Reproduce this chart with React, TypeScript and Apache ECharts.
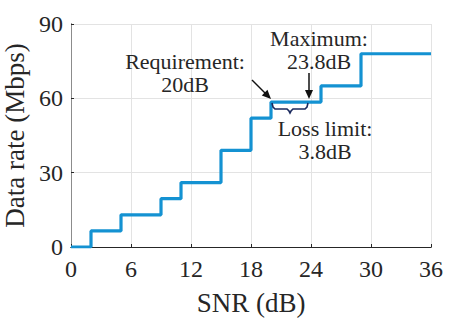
import React, { useEffect, useRef } from "react";
import * as echarts from "echarts";

const snrThresholds = [0, 2, 5, 9, 11, 15, 18, 20, 25, 29, 36];
const dataRates = [0, 6.5, 13, 19.5, 26, 39, 52, 58.5, 65, 78, 78];
const xTicks = [0, 6, 12, 18, 24, 30, 36];
const yTicks = [0, 30, 60, 90];
const requirementSnr = 20;
const maximumSnr = 23.8;
const plateauRate = 58.5;
const requirementLines = ["Requirement:", "20dB"];
const maximumLines = ["Maximum:", "23.8dB"];
const lossLines = ["Loss limit:", "3.8dB"];

const FONT = "Liberation Serif";

export default function App() {
  const ref = useRef<HTMLDivElement>(null);
  useEffect(() => {
    if (!ref.current) return;
    const chart = echarts.init(ref.current, undefined, { renderer: "svg" });
    const axisLine = { show: true, lineStyle: { color: "#262626", width: 1 } };
    chart.setOption({
      animation: false,
      backgroundColor: "#ffffff",
      grid: { left: 71, right: 18, top: 24, bottom: 71, outerBoundsMode: "none", containLabel: false },
      xAxis: [
        {
          type: "value",
          min: xTicks[0],
          max: xTicks[xTicks.length - 1],
          interval: 6,
          name: "SNR (dB)",
          nameLocation: "middle",
          nameGap: 42,
          nameTextStyle: { fontFamily: FONT, fontSize: 27, color: "#262626" },
          axisLine,
          axisTick: { show: true, inside: true, length: 3, lineStyle: { color: "#262626" } },
          axisLabel: { fontFamily: FONT, fontSize: 24, color: "#262626", margin: 10 },
          splitLine: { show: true, lineStyle: { color: "#e3e3e3", width: 1 } },
        },
        {
          type: "value",
          position: "top",
          min: xTicks[0],
          max: xTicks[xTicks.length - 1],
          interval: 6,
          axisLine,
          axisTick: { show: false },
          axisLabel: { show: false },
          splitLine: { show: false },
        },
      ],
      yAxis: [
        {
          type: "value",
          min: yTicks[0],
          max: yTicks[yTicks.length - 1],
          interval: 30,
          name: "Data rate (Mbps)",
          nameLocation: "middle",
          nameGap: 40,
          nameTextStyle: { fontFamily: FONT, fontSize: 27, color: "#262626" },
          axisLine,
          axisTick: { show: true, inside: true, length: 3, lineStyle: { color: "#262626" } },
          axisLabel: { fontFamily: FONT, fontSize: 24, color: "#262626", margin: 8 },
          splitLine: { show: true, lineStyle: { color: "#e3e3e3", width: 1 } },
        },
        {
          type: "value",
          position: "right",
          min: yTicks[0],
          max: yTicks[yTicks.length - 1],
          interval: 30,
          axisLine: { show: true, lineStyle: { color: "#8c8c8c", width: 1 } },
          axisTick: { show: false },
          axisLabel: { show: false },
          splitLine: { show: false },
        },
      ],
      series: [
        {
          type: "line",
          step: "end",
          data: snrThresholds.map((x, i) => [x, dataRates[i]]),
          showSymbol: false,
          symbol: "none",
          lineStyle: { color: "#1492d2", width: 3.2 },
          z: 3,
        },
      ],
    });

    const px = (x: number, y: number) => chart.convertToPixel({ gridIndex: 0 }, [x, y]) as number[];
    const reqTip = px(requirementSnr, plateauRate);
    const maxTip = px(maximumSnr, plateauRate);
    const arrowHead = (tx: number, ty: number, fx: number, fy: number) => {
      const dx = tx - fx, dy = ty - fy;
      const len = Math.hypot(dx, dy);
      const ux = dx / len, uy = dy / len;
      const hl = 9, hw = 4;
      const bx = tx - ux * hl, by = ty - uy * hl;
      return [
        [tx, ty],
        [bx - uy * hw, by + ux * hw],
        [bx + uy * hw, by - ux * hw],
      ];
    };
    const rTip = [reqTip[0], reqTip[1] - 3];
    const rTail = [reqTip[0] - 19, reqTip[1] - 22];
    const mTip = [maxTip[0], maxTip[1] - 3];
    const mTail = [maxTip[0], maxTip[1] - 29];
    const by0 = reqTip[1];
    const bx1 = reqTip[0] + 1;
    const bx2 = maxTip[0] - 1;
    const bm = (bx1 + bx2) / 2;
    const braceColor = "#1b2a5e";
    const reqText = px(11.4, 70.4);
    const maxText = px(24.8, 79.6);
    const lossText = px(25.4, 43.2);
    const gap = 23;
    const textEls = (lines: string[], c: number[]) =>
      lines.map((t, i) => ({
        type: "text",
        x: c[0],
        y: c[1] + (i - (lines.length - 1) / 2) * gap,
        style: {
          text: t,
          fontFamily: FONT,
          fontSize: 22,
          fill: "#262626",
          align: "center",
          verticalAlign: "middle",
        },
        z: 10,
      }));
    chart.setOption({
      graphic: [
        ...textEls(requirementLines, reqText),
        ...textEls(maximumLines, maxText),
        ...textEls(lossLines, lossText),
        {
          type: "line",
          shape: { x1: rTail[0], y1: rTail[1], x2: rTip[0] - 3, y2: rTip[1] - 3 },
          style: { stroke: "#111", lineWidth: 1.5 },
          z: 10,
        },
        {
          type: "polygon",
          shape: { points: arrowHead(rTip[0], rTip[1], rTail[0], rTail[1]) },
          style: { fill: "#111" },
          z: 10,
        },
        {
          type: "line",
          shape: { x1: mTail[0], y1: mTail[1], x2: mTip[0], y2: mTip[1] - 4 },
          style: { stroke: "#111", lineWidth: 1.5 },
          z: 10,
        },
        {
          type: "polygon",
          shape: { points: arrowHead(mTip[0], mTip[1], mTail[0], mTail[1]) },
          style: { fill: "#111" },
          z: 10,
        },
        {
          type: "polyline",
          shape: {
            points: [
              [bx1, by0 + 1],
              [bx1 + 1, by0 + 5],
              [bx1 + 3, by0 + 7],
              [bm - 3, by0 + 7],
              [bm - 1, by0 + 9],
              [bm, by0 + 11],
              [bm + 1, by0 + 9],
              [bm + 3, by0 + 7],
              [bx2 - 3, by0 + 7],
              [bx2 - 1, by0 + 5],
              [bx2, by0 + 1],
            ],
          },
          style: { stroke: braceColor, lineWidth: 1.6, fill: "none" },
          z: 10,
        },
      ],
    });
    return () => chart.dispose();
  }, []);
  return (
    <div
      ref={ref}
      style={{ position: "fixed", left: 0, top: 0, width: 449, height: 318, background: "#fff" }}
    />
  );
}
